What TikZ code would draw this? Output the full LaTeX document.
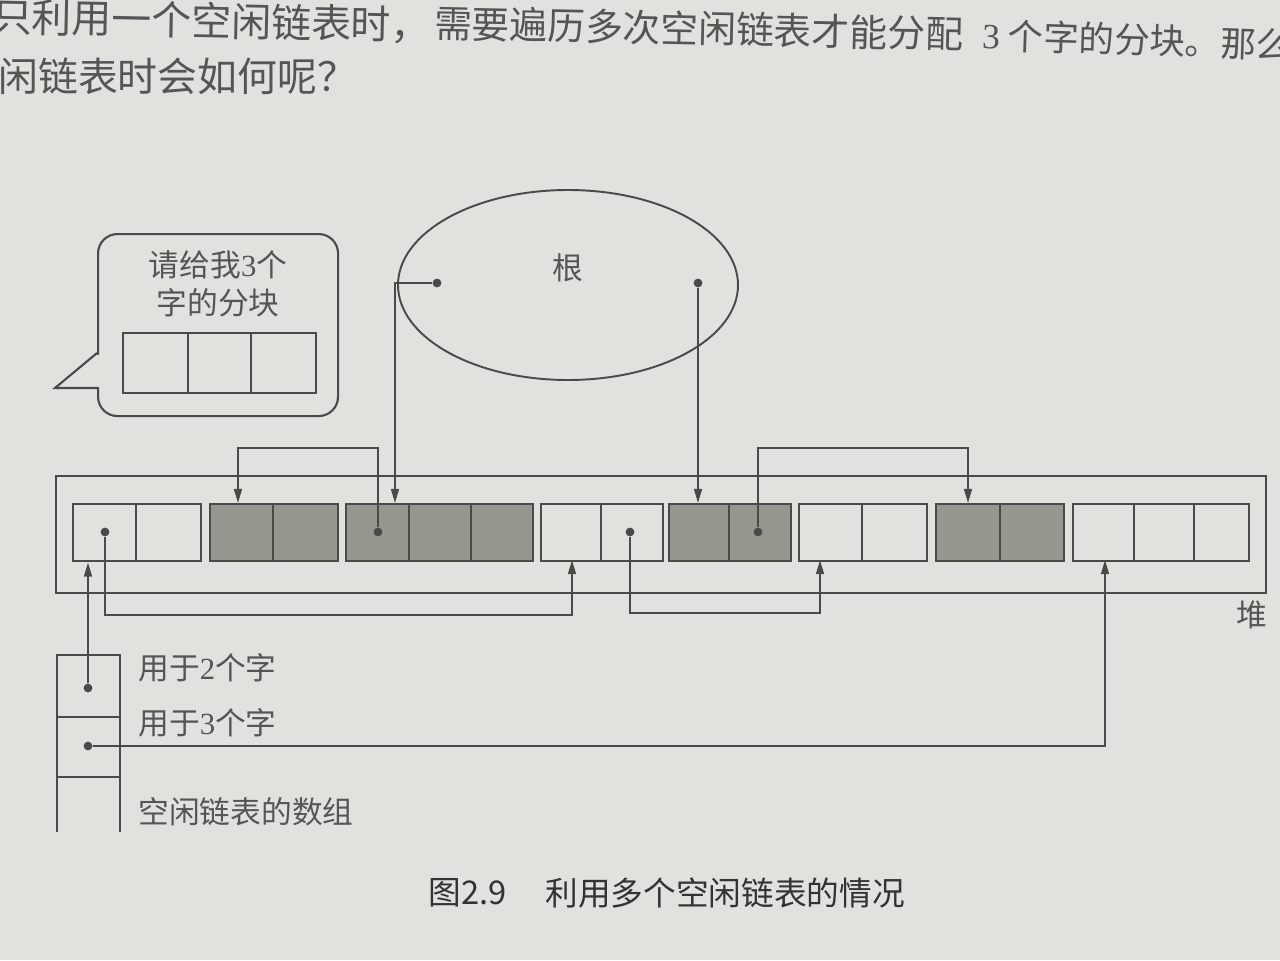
\documentclass[tikz,border=0pt]{standalone}
\usepackage{fontspec}
\setmainfont{Liberation Serif}
\newfontfamily\cjk{Noto Sans CJK SC}
\usetikzlibrary{arrows.meta,shapes.geometric}
\definecolor{paper}{HTML}{E2E1DD}
\definecolor{ink}{HTML}{4A4A4A}
\definecolor{shade}{HTML}{96968F}
\definecolor{txt}{HTML}{555555}
\definecolor{captxt}{HTML}{333333}
\newcommand\hblock[5]{%
  \node[#5, anchor=north west, minimum width=#3*0.02cm, minimum height=1.14cm] (#1) at (#2,503) {};
  \foreach \dx in {#4} {\draw[cellline] (\dx,503) -- (\dx,560);}%
}
\begin{document}
\begin{tikzpicture}[x=0.02cm,y=-0.02cm,
  link/.style={draw=ink,line width=1pt},
  arrow/.style={link,-{Triangle[length=8pt,width=4.5pt]}},
  cellline/.style={draw=ink,line width=1.4pt},
  cellw/.style={cellline,fill=paper,inner sep=0pt},
  cellg/.style={cellline,fill=shade,inner sep=0pt},
  dot/.style={circle,fill=ink,inner sep=0pt,minimum size=5pt},
  lbl/.style={font=\cjk\fontsize{17.5}{20}\selectfont,text=txt,inner sep=0pt},
  body/.style={text=txt,inner sep=0pt,anchor=west},
  captionstyle/.style={font=\cjk\fontsize{18.6}{22}\selectfont,text=captxt,inner sep=0pt,anchor=west}]
\useasboundingbox (0,0) rectangle (1280,960);
\fill[paper] (0,0) rectangle (1280,960);
\clip (0,0) rectangle (1280,960);

% top body text (cut at the page edges, as in the photo; the page curls slightly)
\node[body,font=\cjk\fontsize{22.7}{26}\selectfont,text height=20pt,text depth=2.7pt,rotate=-1.2] (line1a) at (-8,16) {只利用一个空闲链表时，};
\node[body,font=\cjk\fontsize{21.5}{26}\selectfont,text height=18.9pt,text depth=2.6pt,rotate=-1.2] (line1b) at (434,23) {需要遍历多次空闲链表才能分配};
\node[body,font=\cjk\fontsize{20.2}{24}\selectfont,text height=17.8pt,text depth=2.4pt,rotate=-1.8] (line1c) at (982,35) {{\rmfamily 3} 个字的分块。那么，};
\node[body,font=\cjk\fontsize{22.7}{26}\selectfont,text height=20pt,text depth=2.7pt] (line2) at (-2,76) {闲链表时会如何呢？};

% speech bubble
\node[draw=ink,line width=1.2pt,fill=paper,rounded corners=11pt,anchor=north west,minimum width=240*0.02cm,minimum height=182*0.02cm,inner sep=0pt] (bubble) at (97,233) {};
\fill[paper] (95,355) rectangle (99.5,386.5);
\draw[draw=ink,line width=1.2pt,line join=miter] (bubble.west |- 0,353) -- (55,388) -- (bubble.west |- 0,388);
\node[lbl] (ask1) at (218,265) {请给我{\rmfamily 3}个};
\node[lbl] (ask2) at (218,303) {字的分块};
\node[cellw,anchor=north west,minimum width=193*0.02cm,minimum height=60*0.02cm] (want) at (122,332) {};
\draw[cellline] (188,332) -- (188,392) (251,332) -- (251,392);

% root ellipse
\node[ellipse,draw=ink,line width=1.1pt,minimum width=340*0.02cm,minimum height=190*0.02cm,inner sep=0pt] (root) at (568,285) {};
\node[lbl] (rootlbl) at (568,268) {根};

% heap
\node[draw=ink,line width=1.1pt,anchor=north west,minimum width=1210*0.02cm,minimum height=117*0.02cm,inner sep=0pt] (heap) at (55,475) {};
\node[lbl] (heaplbl) at (1252,615) {堆};

\hblock{b1}{72}{128}{136}{cellw}
\hblock{b2}{209}{128}{273}{cellg}
\hblock{b3}{345}{187}{409,471}{cellg}
\hblock{b4}{540}{122}{601}{cellw}
\hblock{b5}{668}{122}{729}{cellg}
\hblock{b6}{798}{128}{862}{cellw}
\hblock{b7}{935}{128}{1000}{cellg}
\hblock{b8}{1072}{176}{1134,1194}{cellw}

% free-list array
\draw[cellline] (57,832) -- (57,655) -- (120,655) -- (120,832) (57,717) -- (120,717) (57,777) -- (120,777);
\node[lbl,anchor=west] (lab2) at (138,668) {用于{\rmfamily 2}个字};
\node[lbl,anchor=west] (lab3) at (138,723) {用于{\rmfamily 3}个字};
\node[lbl,anchor=west] (labarr) at (138,812) {空闲链表的数组};

% arrow targets
\coordinate (t2) at (238,503);
\coordinate (t3) at (395,503);
\coordinate (t5) at (698,503);
\coordinate (t7) at (968,503);
\coordinate (s4) at (572,560);
\coordinate (s6) at (820,560);
\coordinate (s8) at (1105,560);

% dots
\node[dot] (rootL) at (437,283) {};
\node[dot] (rootR) at (698,283) {};
\node[dot] (d1) at (105,532) {};
\node[dot] (d3) at (378,532) {};
\node[dot] (d4) at (630,532) {};
\node[dot] (d5) at (758,532) {};
\node[dot] (a1) at (88,688) {};
\node[dot] (a2) at (88,746) {};

% connectors
\draw[arrow] (rootL) -| (t3);
\draw[arrow] (rootR) -- (t5);
\draw[arrow] (d3) -- (d3 |- 0,448) -| (t2);
\draw[arrow] (d5) -- (d5 |- 0,448) -| (t7);
\draw[arrow] (d1) -- (d1 |- 0,615) -| (s4);
\draw[arrow] (d4) -- (d4 |- 0,613) -| (s6);
\draw[arrow] (a1) -- (a1 |- b1.south);
\draw[arrow] (a2) -| (s8);

% caption
\node[captionstyle] (capnum) at (428,893) {图2.9};
\node[captionstyle] (captext) at (545,893) {利用多个空闲链表的情况};
\end{tikzpicture}
\end{document}
